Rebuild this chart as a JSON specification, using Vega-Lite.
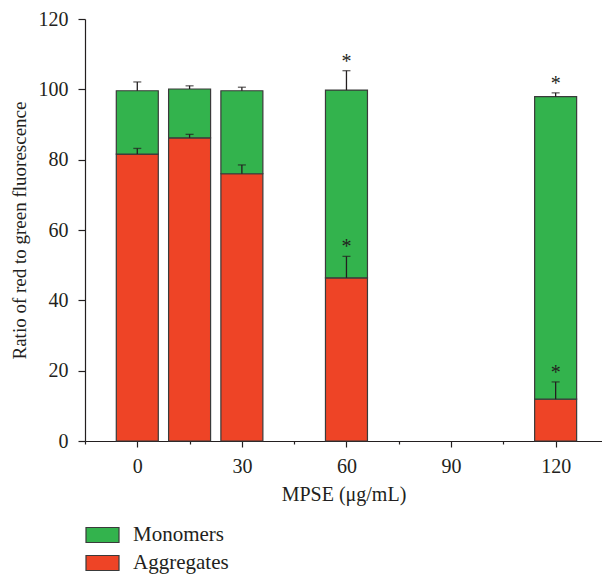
{
  "$schema": "https://vega.github.io/schema/vega-lite/v6.json",
  "width": 517,
  "height": 422,
  "autosize": {"type": "none"},
  "padding": {"left": 85, "top": 19, "right": 0, "bottom": 136},
  "background": "white",
  "config": {
    "view": {"stroke": null},
    "font": "Liberation Serif",
    "axis": {"labelFont": "Liberation Serif", "titleFont": "Liberation Serif", "labelColor": "#231f20", "titleColor": "#231f20", "domainColor": "#231f20", "tickColor": "#231f20", "grid": false, "titleFontWeight": "normal", "domainWidth": 1.2, "tickWidth": 1.2, "labelFlush": false, "labelOverlap": false},
    "legend": {"labelFont": "Liberation Serif", "labelColor": "#231f20"}
  },
  "data": {"values": [
    {"dose": 0, "series": "Aggregates", "low": 0, "high": 81.6, "err": 83.2, "sig": ""},
    {"dose": 0, "series": "Monomers", "low": 81.6, "high": 99.6, "err": 102.1, "sig": ""},
    {"dose": 15, "series": "Aggregates", "low": 0, "high": 86.2, "err": 87.2, "sig": ""},
    {"dose": 15, "series": "Monomers", "low": 86.2, "high": 100.1, "err": 101.0, "sig": ""},
    {"dose": 30, "series": "Aggregates", "low": 0, "high": 76.0, "err": 78.5, "sig": ""},
    {"dose": 30, "series": "Monomers", "low": 76.0, "high": 99.6, "err": 100.6, "sig": ""},
    {"dose": 60, "series": "Aggregates", "low": 0, "high": 46.4, "err": 52.5, "sig": "*"},
    {"dose": 60, "series": "Monomers", "low": 46.4, "high": 99.8, "err": 105.3, "sig": "*"},
    {"dose": 120, "series": "Aggregates", "low": 0, "high": 11.9, "err": 16.8, "sig": "*"},
    {"dose": 120, "series": "Monomers", "low": 11.9, "high": 97.9, "err": 99.0, "sig": "*"}
  ]},
  "layer": [
    {
      "mark": {"type": "bar", "size": 42, "stroke": "#3a3a3a", "strokeWidth": 1.2},
      "encoding": {
        "x": {"field": "dose", "type": "quantitative", "scale": {"domain": [-15, 133.3], "nice": false, "zero": false, "padding": 0},
              "axis": {"orient": "bottom", "values": [-15, 0, 15, 30, 45, 60, 75, 90, 105, 120],
                       "labelExpr": "datum.value % 30 === 0 ? datum.label : ''",
                       "tickSize": {"condition": {"test": "datum.value % 30 === 0", "value": 6}, "value": 3},
                       "labelPadding": 9, "labelFontSize": 20, "titleFontSize": 20, "title": "MPSE (μg/mL)", "titlePadding": 8}},
        "y": {"field": "low", "type": "quantitative", "scale": {"domain": [0, 120], "nice": false, "padding": 0},
              "axis": {"orient": "left", "values": [0, 10, 20, 30, 40, 50, 60, 70, 80, 90, 100, 110, 120],
                       "labelExpr": "datum.value % 20 === 0 ? datum.label : ''",
                       "tickSize": {"condition": {"test": "datum.value % 20 === 0", "value": 7}, "value": 3.5},
                       "labelPadding": 10, "labelFontSize": 20, "titleFontSize": 19, "title": "Ratio of red to green fluorescence", "titlePadding": 9}},
        "y2": {"field": "high"},
        "color": {"field": "series", "type": "nominal",
                  "scale": {"domain": ["Monomers", "Aggregates"], "range": ["#33b34d", "#ee4426"]},
                  "legend": {"orient": "none", "legendX": 0, "legendY": 498.5, "padding": 0, "title": null, "labelFontSize": 21,
                             "symbolType": "M-1,-0.4545H1V0.4545H-1Z", "symbolSize": 1089, "symbolStrokeColor": "#3a3a3a", "symbolStrokeWidth": 1.2, "symbolOpacity": 1, "labelOffset": 13, "rowPadding": -1}}
      }
    },
    {
      "mark": {"type": "rule", "color": "#231f20", "strokeWidth": 1.3},
      "encoding": {
        "x": {"field": "dose", "type": "quantitative"},
        "y": {"field": "high", "type": "quantitative"},
        "y2": {"field": "err"}
      }
    },
    {
      "mark": {"type": "tick", "orient": "horizontal", "color": "#231f20", "size": 8, "thickness": 1.3},
      "encoding": {
        "x": {"field": "dose", "type": "quantitative"},
        "y": {"field": "err", "type": "quantitative"}
      }
    },
    {
      "transform": [{"filter": "datum.sig == '*'"}],
      "mark": {"type": "text", "fontSize": 20, "color": "#231f20", "baseline": "alphabetic", "dy": -3, "font": "Liberation Serif"},
      "encoding": {
        "x": {"field": "dose", "type": "quantitative"},
        "y": {"field": "err", "type": "quantitative"},
        "text": {"field": "sig"}
      }
    }
  ]
}
